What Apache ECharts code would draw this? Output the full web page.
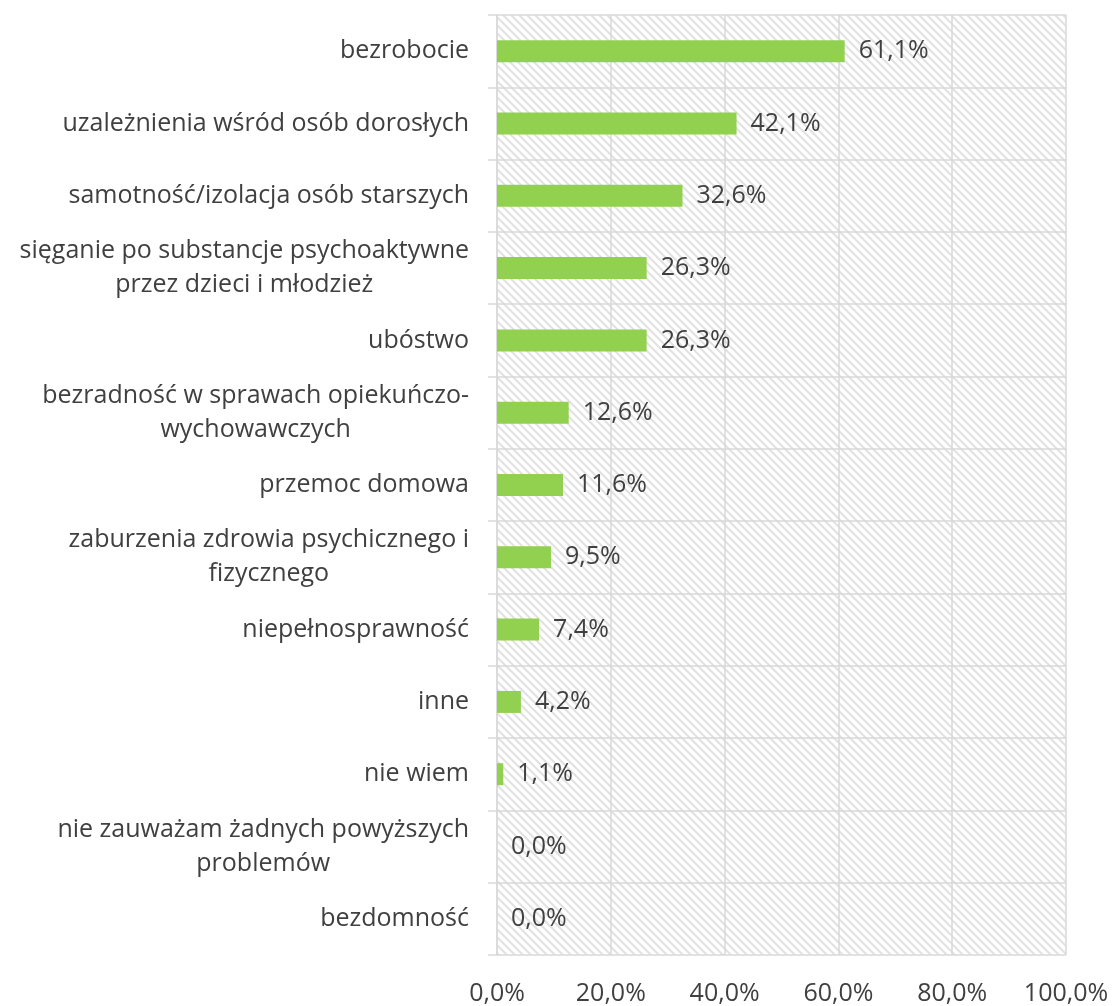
<!DOCTYPE html>
<html>
<head>
<meta charset="utf-8">
<script src="https://cdn.jsdelivr.net/npm/echarts@6/dist/echarts.min.js"></script>
<style>
	html, body { margin: 0; padding: 0; background: #fff; }
	#chart { width: 1112px; height: 1006px; }
</style>
</head>
<body>
<div id="chart"></div>
<script>
"use strict";

var categories = [
	'bezrobocie',
	'uzależnienia wśród osób dorosłych',
	'samotność/izolacja osób starszych',
	'sięganie po substancje psychoaktywne\nprzez dzieci i młodzież',
	'ubóstwo',
	'bezradność w sprawach opiekuńczo-\nwychowawczych',
	'przemoc domowa',
	'zaburzenia zdrowia psychicznego i\nfizycznego',
	'niepełnosprawność',
	'inne',
	'nie wiem',
	'nie zauważam żadnych powyższych\nproblemów',
	'bezdomność'
];
var values = [61.1, 42.1, 32.6, 26.3, 26.3, 12.6, 11.6, 9.5, 7.4, 4.2, 1.1, 0.0, 0.0];
var xTicks = [0, 20, 40, 60, 80, 100];

var TEXT_COLOR = '#404040';
var LINE_COLOR = '#d9d9d9';
var FONT = '"Open Sans", sans-serif';

function fmtPct(v) {
	return v.toFixed(1).replace('.', ',') + '%';
}

// diagonal hatch like the excel "wide downward diagonal" fill
function makeHatch() {
	var c = document.createElement('canvas');
	c.width = 8;
	c.height = 8;
	var ctx = c.getContext('2d');
	ctx.fillStyle = '#ffffff';
	ctx.fillRect(0, 0, 8, 8);
	ctx.strokeStyle = '#e1e1e1';
	ctx.lineWidth = 2;
	ctx.beginPath();
	ctx.moveTo(-2, -2); ctx.lineTo(10, 10);
	ctx.moveTo(-10, -2); ctx.lineTo(2, 10);
	ctx.moveTo(6, -2); ctx.lineTo(18, 10);
	ctx.stroke();
	return c;
}

var chart = echarts.init(document.getElementById('chart'));

chart.setOption({
	animation: false,
	grid: {
		show: true,
		left: 497,
		right: 46,
		top: 15,
		bottom: 51,
		borderWidth: 0,
		backgroundColor: { image: makeHatch(), repeat: 'repeat' }
	},
	xAxis: {
		type: 'value',
		min: 0,
		max: 100,
		interval: 20,
		axisLine: { show: false },
		axisTick: { show: false },
		splitLine: { show: true, lineStyle: { color: LINE_COLOR, width: 1.5 } },
		axisLabel: {
			color: TEXT_COLOR,
			fontFamily: FONT,
			fontSize: 25,
			margin: 26,
			formatter: function(v) {
				return xTicks.indexOf(v) >= 0 ? fmtPct(v) : '';
			}
		}
	},
	yAxis: {
		type: 'category',
		inverse: true,
		data: categories,
		axisLine: { show: true, lineStyle: { color: LINE_COLOR, width: 1.5 } },
		axisTick: { show: true, length: 9, lineStyle: { color: LINE_COLOR, width: 1.5 } },
		splitLine: { show: true, lineStyle: { color: LINE_COLOR, width: 1.5 } },
		axisLabel: {
			margin: 28,
			lineHeight: 34,
			formatter: function(v) {
				return v.split('\n').map(function(s) { return '{c|' + s + '}'; }).join('\n');
			},
			rich: {
				c: {
					align: 'center',
					color: TEXT_COLOR,
					fontFamily: FONT,
					fontSize: 25,
					lineHeight: 34
				}
			}
		}
	},
	series: [{
		type: 'bar',
		data: values,
		barWidth: 22,
		itemStyle: { color: '#92d050' },
		label: {
			show: true,
			position: 'right',
			distance: 14,
			color: TEXT_COLOR,
			fontFamily: FONT,
			fontSize: 25,
			formatter: function(p) { return fmtPct(p.value); }
		}
	}]
});
</script>
</body>
</html>
